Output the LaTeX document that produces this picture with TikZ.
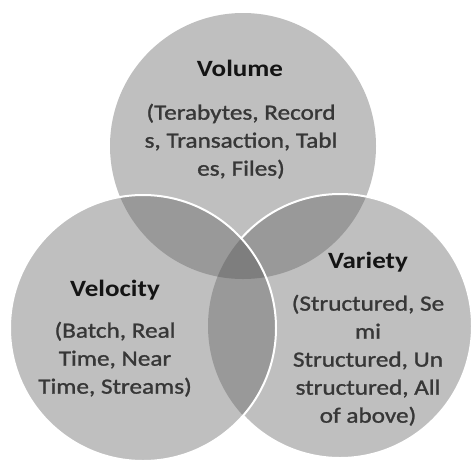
\documentclass[tikz,border=0pt]{standalone}
\usepackage{fontspec}
\setmainfont{Carlito}
\newfontfamily\vennfont[FakeStretch=1.16]{Carlito}
\newfontfamily\vennbody[FakeStretch=1.16,FakeBold=1.2]{Carlito}
\definecolor{vennlight}{RGB}{191,191,191}
\definecolor{venndouble}{RGB}{153,153,153}
\definecolor{venntriple}{RGB}{126,126,126}
\definecolor{venntxt}{RGB}{20,20,20}
\begin{document}
\begin{tikzpicture}[x=0.75pt,y=-0.75pt,
  venntitle/.style={font={\vennfont\bfseries\fontsize{17.5}{20}\selectfont}, text=venntxt, anchor=base, inner sep=0pt},
  venntext/.style={font={\vennbody\fontsize{16.3}{21}\selectfont}, text=venntxt!85, align=center, anchor=north, inner sep=0pt},
  vennline/.style={draw=white, line width=1.5pt}]

\useasboundingbox (0,0) rectangle (471,461);

\coordinate (volC) at (243,146);
\coordinate (velC) at (143,328);
\coordinate (varC) at (340,326);

\fill[vennlight] (volC) circle (133);
\fill[vennlight] (velC) circle (133);
\fill[vennlight] (varC) circle (132);

% overlaps
\begin{scope}
  \clip (volC) circle (133);
  \fill[venndouble] (velC) circle (133);
  \fill[venndouble] (varC) circle (132);
\end{scope}
\begin{scope}
  \clip (velC) circle (133);
  \fill[venndouble] (varC) circle (132);
\end{scope}
\begin{scope}
  \clip (volC) circle (133);
  \clip (velC) circle (133);
  \fill[venntriple] (varC) circle (132);
\end{scope}

% bordi bianchi
\begin{scope}[even odd rule]
  \clip (-10,-10) rectangle (481,471) (velC) circle (133);
  \draw[vennline] (varC) circle (132);
\end{scope}
\draw[vennline] (velC) circle (133);

\node[venntitle] (volT) at (240,76) {Volume};
\node[venntext] (volB) at (241,103.5) {(Terabytes, Record\\s, Transaction, Tabl\\es, Files)};

\node[venntitle] (velT) at (115,296) {Velocity};
\node[venntext] (velB) at (115,321.5) {(Batch, Real\\Time, Near\\Time, Streams)};

\node[venntitle] (varT) at (368,268) {Variety};
\node[venntext] (varB) at (368,294.5) {(Structured, Se\\mi\\Structured, Un\\structured, All\\of above)};

\end{tikzpicture}
\end{document}
